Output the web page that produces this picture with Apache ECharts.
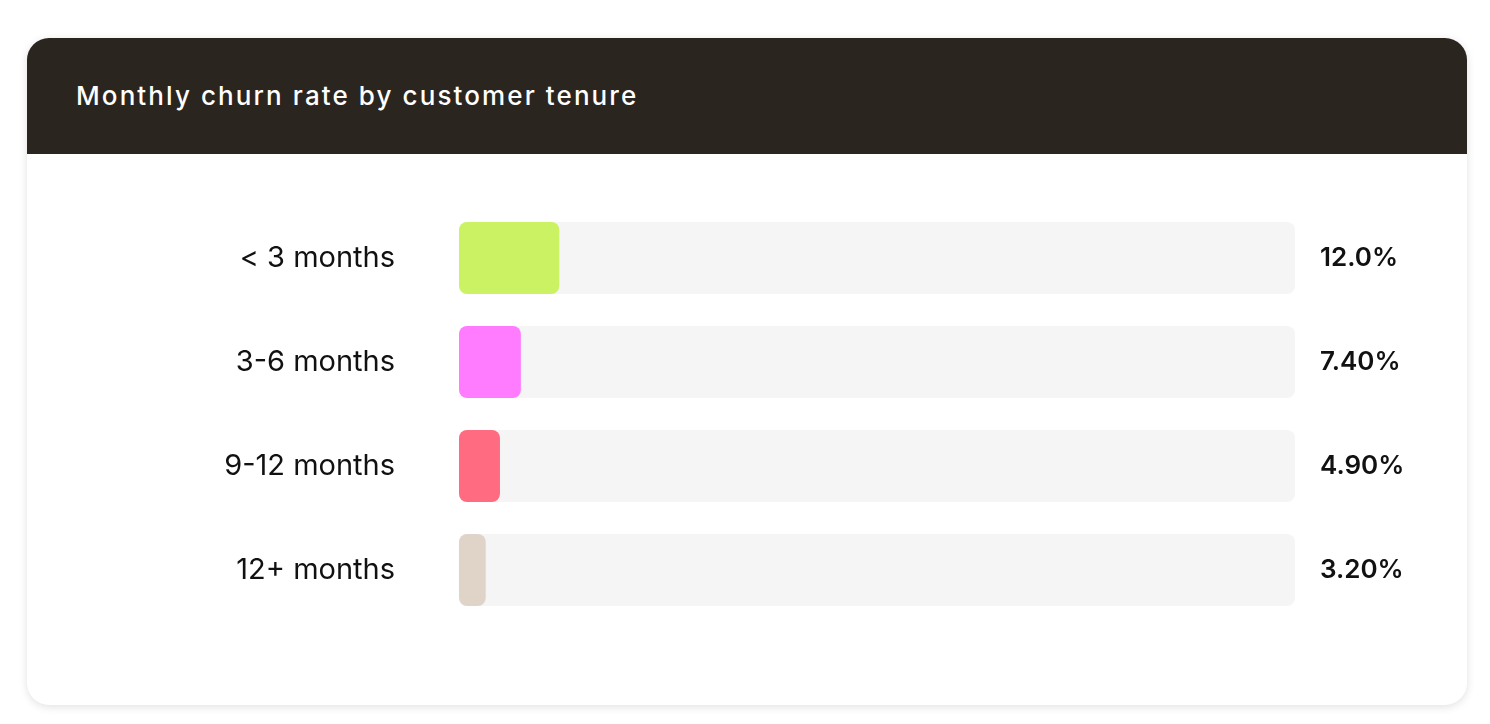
<!DOCTYPE html>
<html>
<head>
<meta charset="utf-8">
<script src="https://cdn.jsdelivr.net/npm/echarts@6/dist/echarts.min.js"></script>
<style>
	html, body { margin: 0; padding: 0; background: #ffffff; width: 1490px; height: 724px; overflow: hidden; }
	#card {
		position: absolute; left: 27px; top: 38px; width: 1440px; height: 667px;
		background: #ffffff; border-radius: 22px; overflow: hidden;
		box-shadow: 0 2px 8px rgba(0,0,0,0.12);
	}
	#head {
		height: 116px; background: #2b2520; color: #ffffff;
		font-family: Inter, sans-serif; font-weight: 500; font-size: 26px;
		letter-spacing: 2.1px; line-height: 116px; padding-left: 49px;
	}
	#chart { position: absolute; left: 0; top: 0; width: 1490px; height: 724px; }
</style>
</head>
<body>
<div id="card"><div id="head"></div></div>
<div id="chart"></div>
<script>
var titleText = 'Monthly churn rate by customer tenure';
var tenures = ['< 3 months', '3-6 months', '9-12 months', '12+ months'];
var churnRates = [12.0, 7.4, 4.9, 3.2];
var barColors = ['#cbf263', '#ff7bff', '#ff6b81', '#e0d4c8'];

document.getElementById('head').textContent = titleText;

var myChart = echarts.init(document.getElementById('chart'));
// 3 significant figures, like the card shows them
var valueLabels = churnRates.map(function (v) { return v.toPrecision(3) + '%'; });

var option = {
	backgroundColor: 'transparent',
	grid: {
		left: 459,
		right: 195,
		top: 206,
		bottom: 102
	},
	xAxis: {
		type: 'value',
		min: 0,
		max: 100,
		show: false
	},
	yAxis: [{
		type: 'category',
		data: tenures,
		inverse: true,
		axisLine: { show: false },
		axisTick: { show: false },
		axisLabel: {
			margin: 64,
			padding: [5, 0, 0, 0],
			color: '#111111',
			fontFamily: 'Inter',
			fontSize: 29
		}
	}, {
		type: 'category',
		data: valueLabels,
		inverse: true,
		position: 'right',
		axisLine: { show: false },
		axisTick: { show: false },
		axisLabel: {
			margin: 25,
			padding: [5, 0, 0, 0],
			align: 'left',
			color: '#111111',
			fontFamily: 'Inter',
			fontWeight: 600,
			fontSize: 26
		}
	}],
	series: [{
		type: 'bar',
		barWidth: 72,
		data: churnRates.map(function (v, i) {
			return { value: v, itemStyle: { color: barColors[i] } };
		}),
		itemStyle: { borderRadius: 8 },
		showBackground: true,
		backgroundStyle: { color: '#f5f5f5', borderRadius: 8 },
		silent: true
	}]
};
myChart.setOption(option);
</script>
</body>
</html>
